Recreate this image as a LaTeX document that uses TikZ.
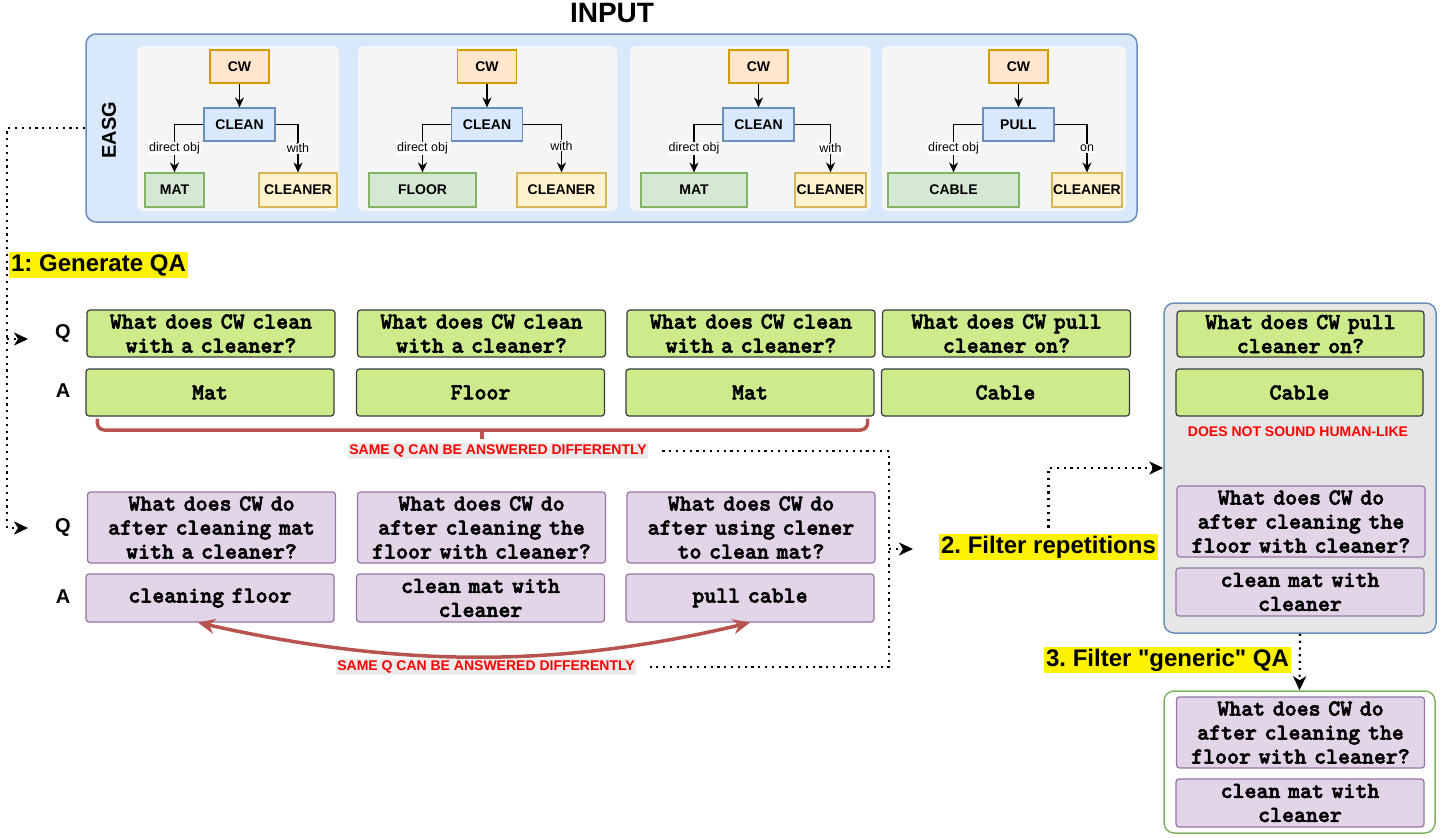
\documentclass[tikz,border=0pt]{standalone}
\usepackage{fontspec}
\setmainfont{Liberation Sans}
\newfontfamily\qamono{lmmonolt10-bold.otf}[FakeBold=2.5]
\usepackage{tikz}
\usetikzlibrary{arrows.meta}
\definecolor{MyOrange}{HTML}{FFE6CC}
\definecolor{MyOrangeLine}{HTML}{D79B00}
\definecolor{MyBlue}{HTML}{DAE8FC}
\definecolor{MyBlueLine}{HTML}{6C8EBF}
\definecolor{MyGreen}{HTML}{D5E8D4}
\definecolor{MyGreenLine}{HTML}{82B366}
\definecolor{MyYellow}{HTML}{FFF2CC}
\definecolor{MyYellowLine}{HTML}{D6B656}
\definecolor{MyPanel}{HTML}{F5F5F5}
\definecolor{MyLime}{HTML}{CDEB8B}
\definecolor{MyDark}{HTML}{36393D}
\definecolor{MyLilac}{HTML}{E1D5E7}
\definecolor{MyPurple}{HTML}{9673A6}
\definecolor{MyBrick}{HTML}{B85450}
\definecolor{MyRed}{HTML}{FF0000}
\definecolor{MyLight}{HTML}{EBEBEB}
\definecolor{MyGrey}{HTML}{E6E6E6}
\newcommand{\treefont}{\fontsize{14}{16}\selectfont\bfseries}
\newcommand{\qafont}{\fontsize{22.8}{24}\selectfont\qamono}
\newcommand{\warnfont}{\fontsize{14}{16}\selectfont\bfseries}
\tikzset{
  tnode/.style={draw, line width=1.2, minimum height=33, inner sep=0, font=\treefont},
  cwbox/.style={tnode, fill=MyOrange, draw=MyOrangeLine, minimum width=59},
  verbbox/.style={tnode, fill=MyBlue, draw=MyBlueLine, minimum width=71},
  objbox/.style={tnode, fill=MyGreen, draw=MyGreenLine, minimum height=34},
  toolbox/.style={tnode, fill=MyYellow, draw=MyYellowLine, minimum height=34},
  tedge/.style={line width=1.2, -{Stealth[length=10,width=9]}},
  elabel/.style={fill=white, inner sep=1, font=\fontsize{12.5}{14}\selectfont},
  qabox/.style={rectangle, rounded corners=3, line width=1.2, minimum width=248, minimum height=47, text width=244, align=center, inner sep=0, font=\qafont},
  qgreen/.style={qabox, fill=MyLime, draw=MyDark},
  qpurple/.style={qabox, fill=MyLilac, draw=MyPurple},
  qaletter/.style={font=\fontsize{20}{22}\selectfont\bfseries},
  samelabel/.style={fill=MyLight, text=MyRed, inner sep=1.5, font=\warnfont},
  hilite/.style={fill=yellow, inner sep=2, font=\fontsize{24}{26}\selectfont\bfseries},
  dotlink/.style={line width=2.2, dash pattern=on 2.2pt off 4.6pt},
  redline/.style={draw=MyBrick, line width=3.5}
}

\begin{document}
\frenchspacing
\begin{tikzpicture}[x=1pt, y=-1pt, >={Stealth[length=14,width=13,inset=4]}]
  \useasboundingbox (0,0) rectangle (1441,838);
  \node[font=\fontsize{28}{30}\selectfont\bfseries] (input) at (612,13) {INPUT};
  \node[draw=MyBlueLine, fill=MyBlue, line width=1.5, rounded corners=10, minimum width=1051, minimum height=188] (easg) at (611.5,128) {};
  \node[rotate=90, font=\fontsize{20}{22}\selectfont\bfseries] (easglabel) at (109,130) {EASG};
  \fill[MyPanel, rounded corners=6] (137,46) rectangle (339,211);
  \fill[MyPanel, rounded corners=6] (358,46) rectangle (617,211);
  \fill[MyPanel, rounded corners=6] (630,46) rectangle (871,211);
  \fill[MyPanel, rounded corners=6] (882,46) rectangle (1126,211);

  \node[cwbox] (cw1) at (239.5,66.5) {CW};
  \node[verbbox] (verb1) at (239.5,124.5) {CLEAN};
  \node[objbox, minimum width=59] (obj1) at (174.5,190) {MAT};
  \node[toolbox, minimum width=78] (tool1) at (298,190) {CLEANER};
  \draw[tedge] (cw1) -- (verb1);
  \draw[tedge] (verb1.west) -| (obj1.north) node[elabel, pos=.75] {direct obj};
  \draw[tedge] (verb1.east) -| (tool1.north) node[elabel, pos=.75] {with};

  \node[cwbox] (cw2) at (487,66.5) {CW};
  \node[verbbox] (verb2) at (487,124.5) {CLEAN};
  \node[objbox, minimum width=107] (obj2) at (422.5,190) {FLOOR};
  \node[toolbox, minimum width=89] (tool2) at (561.5,190) {CLEANER};
  \draw[tedge] (cw2) -- (verb2);
  \draw[tedge] (verb2.west) -| (obj2.north) node[elabel, pos=.75] {direct obj};
  \draw[tedge] (verb2.east) -| (tool2.north) node[elabel, pos=.72] {with};

  \node[cwbox] (cw3) at (758.5,66.5) {CW};
  \node[verbbox] (verb3) at (758.5,124.5) {CLEAN};
  \node[objbox, minimum width=106] (obj3) at (694,190) {MAT};
  \node[toolbox, minimum width=71] (tool3) at (830.5,190) {CLEANER};
  \draw[tedge] (cw3) -- (verb3);
  \draw[tedge] (verb3.west) -| (obj3.north) node[elabel, pos=.75] {direct obj};
  \draw[tedge] (verb3.east) -| (tool3.north) node[elabel, pos=.75] {with};

  \node[cwbox] (cw4) at (1018.5,66.5) {CW};
  \node[verbbox] (verb4) at (1018.5,124.5) {PULL};
  \node[objbox, minimum width=131] (obj4) at (953.5,190) {CABLE};
  \node[toolbox, minimum width=70] (tool4) at (1087,190) {CLEANER};
  \draw[tedge] (cw4) -- (verb4);
  \draw[tedge] (verb4.west) -| (obj4.north) node[elabel, pos=.75] {direct obj};
  \draw[tedge] (verb4.east) -| (tool4.north) node[elabel, pos=.75] {on};

  \node[hilite] (generate) at (98.5,265) {1: Generate QA};
  \node[qaletter] (lq1) at (63,333) {Q};
  \node[qaletter] (la1) at (63,391) {A};
  \node[qaletter] (lq2) at (63,527) {Q};
  \node[qaletter] (la2) at (63,597) {A};

  \node[qgreen] (q11) at (211,333.5) {What does CW clean\\with a cleaner?};
  \node[qgreen] (q12) at (481.5,333.5) {What does CW clean\\with a cleaner?};
  \node[qgreen] (q13) at (751,333.5) {What does CW clean\\with a cleaner?};
  \node[qgreen] (q14) at (1006.5,333.5) {What does CW pull\\cleaner on?};
  \node[qgreen] (a11) at (210,392.5) {Mat};
  \node[qgreen] (a12) at (480.5,392.5) {Floor};
  \node[qgreen] (a13) at (750,392.5) {Mat};
  \node[qgreen] (a14) at (1005.5,392.5) {Cable};

  \node[qpurple, minimum height=71] (q21) at (211.5,527.5) {What does CW do\\after cleaning mat\\with a cleaner?};
  \node[qpurple, minimum height=71] (q22) at (481.5,527.5) {What does CW do\\after cleaning the\\floor with cleaner?};
  \node[qpurple, minimum height=71] (q23) at (751,527.5) {What does CW do\\after using clener\\to clean mat?};
  \node[qpurple, minimum height=48] (a21) at (210,598) {cleaning floor};
  \node[qpurple, minimum height=48] (a22) at (480.5,598) {clean mat with\\cleaner};
  \node[qpurple, minimum height=48] (a23) at (750,598) {pull cable};

  \coordinate (brace) at (482,430);
  \draw[redline, rounded corners=7] ([xshift=12,yshift=-2]a11.south west) |- (brace) -| ([xshift=-7,yshift=-2]a13.south east);
  \draw[redline] (brace) -- ++(0,9);
  \node[samelabel] (same1) at (498,451) {SAME Q CAN BE ANSWERED DIFFERENTLY};
  \draw[redline, {Stealth[length=17,width=15]}-{Stealth[length=17,width=15]}] ([xshift=-12]a21.south) .. controls (400,668) and (560,668) .. (a23.south);
  \node[samelabel] (same2) at (486,667) {SAME Q CAN BE ANSWERED DIFFERENTLY};

  \node[hilite] (filter2) at (1048.5,547) {2. Filter repetitions};
  \node[hilite] (filter3) at (1167.5,660) {3. Filter \textquotedbl generic\textquotedbl{} QA};

  \node[draw=MyBlueLine, fill=MyGrey, line width=1.5, rounded corners=10, minimum width=272, minimum height=330] (repeat) at (1300,468) {};
  \node[qgreen, minimum width=247, minimum height=46] (q31) at (1300.5,334) {What does CW pull\\cleaner on?};
  \node[qgreen, minimum width=247] (a31) at (1299.5,392.5) {Cable};
  \node[text=MyRed, font=\warnfont] (human) at (1298,432) {DOES NOT SOUND HUMAN-LIKE};
  \node[qpurple, minimum height=71] (q32) at (1301,521.5) {What does CW do\\after cleaning the\\floor with cleaner?};
  \node[qpurple, minimum height=48] (a32) at (1300,592) {clean mat with\\cleaner};

  \node[draw=MyGreenLine, fill=white, line width=1.5, rounded corners=10, minimum width=271, minimum height=142] (generic) at (1299.5,762) {};
  \node[qpurple, minimum height=71] (q41) at (1300.5,732.5) {What does CW do\\after cleaning the\\floor with cleaner?};
  \node[qpurple, minimum height=48] (a41) at (1300,803) {clean mat with\\cleaner};

  \coordinate (lane) at (7,128);
  \coordinate (in1) at (28,339);
  \coordinate (in2) at (28,528);
  \draw[dotlink, ->] (easg.west) -- (lane) |- (in2);
  \draw[dotlink, ->] (lane |- in1) -- (in1);
  \coordinate (brk) at (889,549);
  \draw[dotlink, shorten <=14, shorten >=14] (same1.east) -| (brk) |- (same2.east);
  \draw[dotlink, ->, shorten >=26] (brk) -- (brk -| filter2.west);
  \draw[dotlink, ->, shorten <=6] (filter2.north) |- (repeat.west);
  \draw[dotlink, ->] (repeat.south) -- (generic.north);
\end{tikzpicture}
\end{document}
